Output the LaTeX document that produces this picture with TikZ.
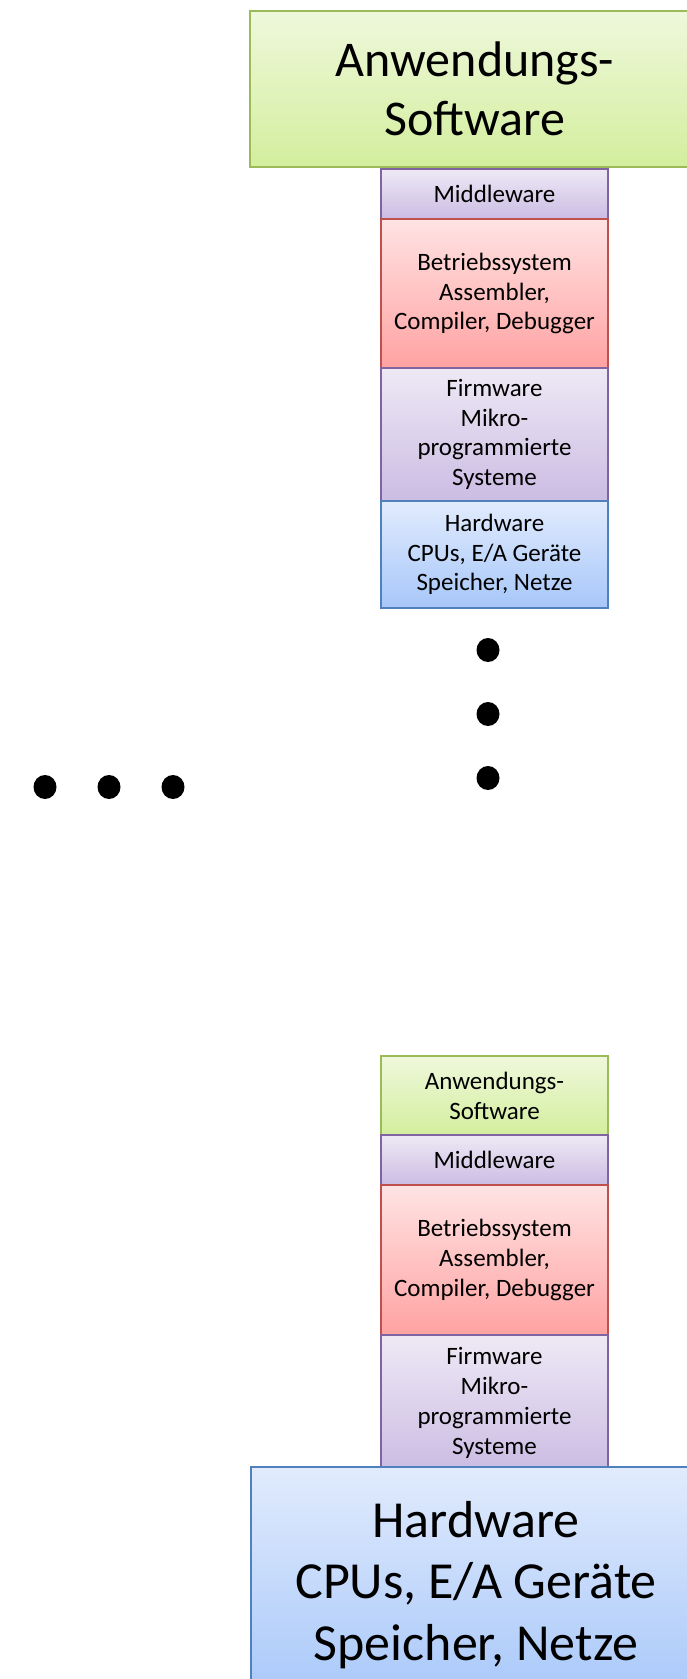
\documentclass[tikz,border=0pt]{standalone}
\usepackage{fontspec}
\setmainfont{Carlito}
\definecolor{grnTop}{HTML}{EFF8DC}
\definecolor{grnBot}{HTML}{D3EE9D}
\definecolor{grnLine}{HTML}{9BBB59}
\definecolor{purTop}{HTML}{EEE9F5}
\definecolor{purBot}{HTML}{CBBCE3}
\definecolor{purLine}{HTML}{8064A2}
\definecolor{redTop}{HTML}{FFE3E3}
\definecolor{redBot}{HTML}{FFA2A2}
\definecolor{redLine}{HTML}{C0504D}
\definecolor{bluTop}{HTML}{E1EBFD}
\definecolor{bluBot}{HTML}{A7C7F9}
\definecolor{bluLine}{HTML}{4F81BD}
\tikzset{
  layer/.style={rectangle, line width=1.1pt, inner sep=0pt, align=center},
  smalllayer/.style={layer, minimum width=227pt, font=\fontsize{25}{29.8}\selectfont},
  biglayer/.style={layer, minimum width=450pt},
  greenfill/.style={top color=grnTop, bottom color=grnBot, draw=grnLine},
  purplefill/.style={top color=purTop, bottom color=purBot, draw=purLine},
  redfill/.style={top color=redTop, bottom color=redBot, draw=redLine},
  bluefill/.style={top color=bluTop, bottom color=bluBot, draw=bluLine},
  dotmark/.style={ellipse, fill=black, minimum width=23pt, minimum height=24pt, inner sep=0pt}
}
\usetikzlibrary{shapes.geometric}
\begin{document}
\begin{tikzpicture}[x=1pt, y=-1pt]
  \useasboundingbox (0,0) rectangle (687,1679);
  \clip (0,0) rectangle (687,1679);

  % upper stack: detailed layers under a large application layer
  \node[smalllayer, purplefill, minimum height=50pt] (mw1) at (494.5,194) {Middleware};
  \node[smalllayer, redfill, minimum height=149pt] (os1) at (494.5,293.5)
    {Betriebssystem\\Assembler,\\Compiler, Debugger};
  \node[smalllayer, purplefill, minimum height=133pt] (fw1) at (494.5,434.5)
    {Firmware\\Mikro-\\programmierte\\Systeme};
  \node[smalllayer, bluefill, minimum height=107pt] (hw1) at (494.5,554.5)
    {Hardware\\CPUs, E/A Geräte\\Speicher, Netze};
  \node[biglayer, greenfill, minimum height=156pt, font=\fontsize{50}{59}\selectfont]
    (app1) at (475,89) {Anwendungs-\\Software};

  % ellipsis dots
  \node[dotmark] (v1) at (488,650) {};
  \node[dotmark] (v2) at (488,714) {};
  \node[dotmark] (v3) at (488,778) {};
  \node[dotmark] (h1) at (45,787) {};
  \node[dotmark] (h2) at (109,787) {};
  \node[dotmark] (h3) at (173,787) {};

  % lower stack: detailed layers above a large hardware layer
  \node[smalllayer, greenfill, minimum height=79pt] (app2) at (494.5,1095.5)
    {Anwendungs-\\Software};
  \node[smalllayer, purplefill, minimum height=50pt] (mw2) at (494.5,1160) {Middleware};
  \node[smalllayer, redfill, minimum height=150pt] (os2) at (494.5,1260)
    {Betriebssystem\\Assembler,\\Compiler, Debugger};
  \node[smalllayer, purplefill, minimum height=136pt] (fw2) at (494.5,1403)
    {Firmware\\Mikro-\\programmierte\\Systeme};
  \node[biglayer, bluefill, minimum height=236pt, font=\fontsize{52}{61.5}\selectfont]
    (hw2) at (476,1585) {Hardware\\CPUs, E/A Geräte\\Speicher, Netze};
\end{tikzpicture}
\end{document}
